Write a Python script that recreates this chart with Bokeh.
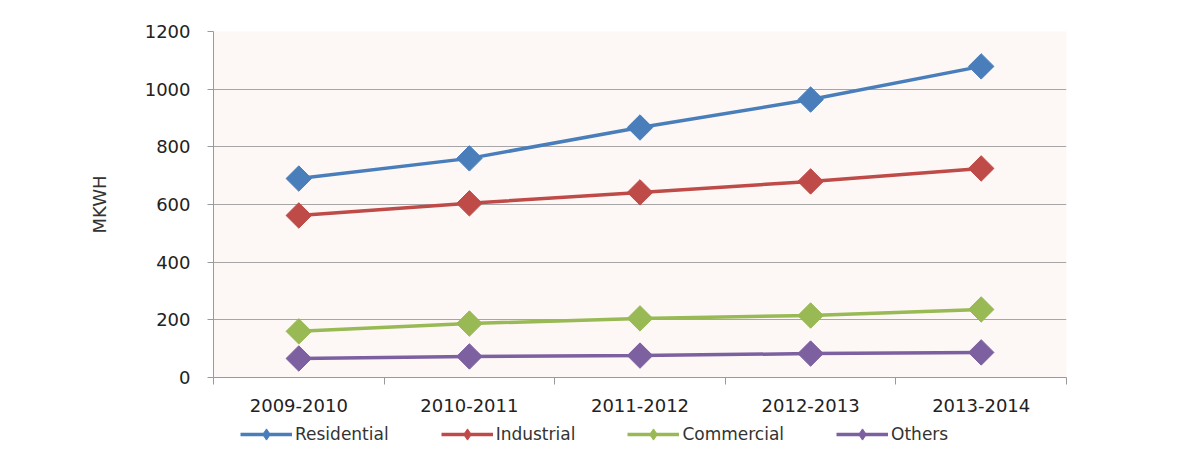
import numpy as np
from bokeh.plotting import figure
from bokeh.layouts import column
from bokeh.models import Range1d, FixedTicker, Legend, LegendItem, ColumnDataSource
from bokeh.embed import file_html
from bokeh.resources import INLINE

years = ["2009-2010", "2010-2011", "2011-2012", "2012-2013", "2013-2014"]
residential = [690, 760, 867, 964, 1079]
industrial = [562, 604, 642, 680, 725]
commercial = [160, 187, 205, 215, 236]
others = [66, 73, 76, 83, 87]
y_ticks = [0, 200, 400, 600, 800, 1000, 1200]

series = [
    ("Residential", residential, "#4a7ebb"),
    ("Industrial", industrial, "#be4b48"),
    ("Commercial", commercial, "#98b954"),
    ("Others", others, "#7d60a0"),
]

FONT = "DejaVu Sans"
n = len(years)
xs = [i + 0.5 for i in range(n)]

p = figure(width=1165, height=422, output_backend="svg", toolbar_location=None,
           x_range=Range1d(0, n), y_range=Range1d(0, 1200),
           min_border_left=213, min_border_right=99, min_border_top=31, min_border_bottom=45)
p.background_fill_color = "#fdf8f5"
p.border_fill_color = "white"
p.outline_line_color = None

# y axis
p.yaxis.ticker = FixedTicker(ticks=y_ticks)
p.yaxis.axis_line_color = "#9a9a9a"
p.yaxis.major_tick_line_color = "#9a9a9a"
p.yaxis.major_tick_out = 6
p.yaxis.major_tick_in = 0
p.yaxis.minor_tick_line_color = None
p.yaxis.major_label_standoff = 17
p.yaxis.major_label_text_font = FONT
p.yaxis.major_label_text_font_size = "18px"
p.yaxis.major_label_text_color = "#222222"
p.yaxis.axis_label = "MKWH"
p.yaxis.axis_label_text_font = FONT
p.yaxis.axis_label_text_font_size = "18px"
p.yaxis.axis_label_text_font_style = "normal"
p.yaxis.axis_label_text_color = "#333333"
p.yaxis.axis_label_standoff = 32

# x axis: labels at category centres, ticks at boundaries
p.xaxis.ticker = FixedTicker(ticks=xs, minor_ticks=list(range(n + 1)))
p.xaxis.major_label_overrides = {x: y for x, y in zip(xs, years)}
p.xaxis.axis_line_color = "#9a9a9a"
p.xaxis.major_tick_line_color = None
p.xaxis.major_tick_out = 7
p.xaxis.major_tick_in = 0
p.xaxis.minor_tick_line_color = "#9a9a9a"
p.xaxis.minor_tick_out = 7
p.xaxis.minor_tick_in = 0
p.xaxis.major_label_standoff = 14
p.xaxis.major_label_text_font = FONT
p.xaxis.major_label_text_font_size = "18px"
p.xaxis.major_label_text_color = "#222222"

p.xgrid.grid_line_color = None
p.ygrid.ticker = FixedTicker(ticks=y_ticks)
p.ygrid.grid_line_color = "#a6a6a6"
p.ygrid.grid_line_width = 1

# separate strip for the legend below the chart
lf = figure(width=1165, height=32, output_backend="svg", toolbar_location=None,
            x_range=Range1d(0, n), y_range=Range1d(0, 1200),
            min_border=0, min_border_left=0, min_border_right=0,
            min_border_top=0, min_border_bottom=0)
lf.axis.visible = False
lf.grid.visible = False
lf.outline_line_color = None
lf.background_fill_color = "white"
lf.border_fill_color = "white"

items = []
for name, vals, color in series:
    src = ColumnDataSource(dict(x=xs, y=vals))
    p.line("x", "y", source=src, line_color=color, line_width=3.5)
    p.scatter("x", "y", source=src, marker="square", angle=np.pi / 4, size=18,
              fill_color=color, line_color=color)
    ln = lf.line("x", "y", source=src, line_color=color, line_width=3.5, visible=False)
    mk = lf.scatter("x", "y", source=src, marker="diamond", size=13,
                    fill_color=color, line_color=color, visible=False)
    items.append(LegendItem(label=name, renderers=[ln, mk]))

legend = Legend(items=items, orientation="horizontal", location=(27, 6),
                glyph_width=52, glyph_height=28, label_standoff=3, spacing=52,
                padding=0, margin=0, border_line_color=None, background_fill_alpha=0,
                label_text_font=FONT, label_text_font_size="17px",
                label_text_color="#333333", click_policy="none")
lf.add_layout(legend, "center")

layout = column(p, lf, spacing=0)
open("out.html", "w").write(file_html(layout, INLINE))
